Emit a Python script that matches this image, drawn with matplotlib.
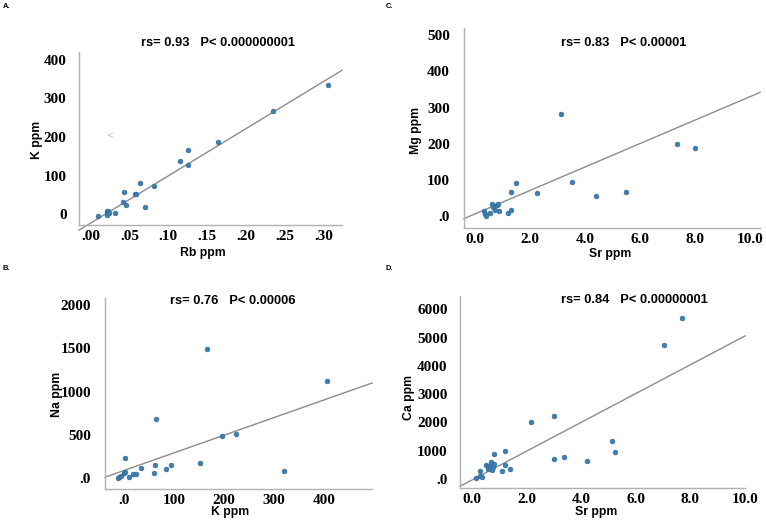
import matplotlib.pyplot as plt

# A: K vs Rb
rb_a = [0.010, 0.021, 0.021, 0.023, 0.021, 0.024, 0.031, 0.042, 0.046, 0.043, 0.057, 0.059,
        0.063, 0.070, 0.082, 0.115, 0.125, 0.125, 0.164, 0.235, 0.306]
k_a = [-4, 9, 4, 7, -2, 3, 4, 31, 24, 57, 53, 53, 82, 18, 72, 139, 165, 128, 187, 266, 335]
fit_a = (-23, 1221)

# B: Na vs K
k_b = [-12, -9, -6, 0, 2, 10, 19, 25, 35, 3, 60, 62, 84, 95, 152, 65, 167, 197, 224, 320, 405]
na_b = [5, 15, 25, 60, 75, 15, 55, 45, 124, 234, 61, 158, 104, 158, 181, 689, 1493, 485, 516, 89, 1120]
fit_b = (88, 2.045)

# C: Mg vs Sr
sr_c = [0.35, 0.37, 0.40, 0.56, 0.64, 0.68, 0.74, 0.80, 0.86, 0.89, 1.21, 1.30, 1.30, 1.49,
        2.27, 3.15, 3.55, 4.40, 5.48, 7.33, 8.01]
mg_c = [15, 8, 2, 10, 33, 26, 17, 31, 33, 15, 9, 19, 68, 92, 65, 283, 94, 56, 68, 200, 189]
fit_c = (6.6, 32.4)

# D: Ca vs Sr
sr_d = [0.15, 0.31, 0.31, 0.36, 0.52, 0.60, 0.58, 0.66, 0.69, 0.74, 0.78, 0.80, 0.81, 1.12,
        1.21, 1.22, 1.39, 2.16, 3.01, 3.01, 3.37, 4.22, 5.15, 5.26, 7.03, 7.70]
ca_d = [30, 260, 90, 60, 500, 440, 360, 400, 600, 300, 420, 540, 870, 280, 480, 975, 360,
        2004, 2216, 691, 787, 621, 1330, 940, 4734, 5702]
fit_d = (-46.5, 510.5)

W, H = 766, 522
fig = plt.figure(figsize=(W / 100, H / 100), dpi=100)


def box(l, t, r, b):
    return [l / W, 1 - b / H, (r - l) / W, (b - t) / H]


def px(x, y):
    return x / W, 1 - y / H


def panel(rect, x, y, fit, xlim, ylim, xt, xtl, yt, ytl, title, tpos, ypad):
    ax = fig.add_axes(rect)
    ax.scatter(x, y, s=12, color='#3d80b0', edgecolor='#2b6590', linewidth=0.4, zorder=3)
    ax.plot(xlim, [fit[0] + fit[1] * v for v in xlim], color='#8c8c8c', lw=1.0, clip_on=False)
    ax.set_xlim(xlim)
    ax.set_ylim(ylim)
    ax.set_xticks(xt, xtl)
    ax.set_yticks(yt, ytl)
    for s in ['top', 'right']:
        ax.spines[s].set_visible(False)
    for s in ['left', 'bottom']:
        ax.spines[s].set_color('#b0b0b0')
        ax.spines[s].set_linewidth(1.0)
    ax.tick_params(length=0, labelsize=11)
    ax.tick_params(axis='x', pad=3.5)
    ax.tick_params(axis='y', pad=ypad)
    for lab in ax.get_xticklabels() + ax.get_yticklabels():
        lab.set_fontfamily('Liberation Serif')
        lab.set_fontweight('bold')
    ax.text(tpos[0], tpos[1], title, transform=ax.transAxes, ha='center', va='center',
            fontsize=9.3, fontweight='bold', family='Liberation Sans')
    return ax


axA = panel(box(79, 52, 342, 225), rb_a, k_a, fit_a, (-0.015, 0.324), (-28, 420),
            [0, .05, .10, .15, .20, .25, .30], ['.00', '.05', '.10', '.15', '.20', '.25', '.30'],
            [0, 100, 200, 300, 400], ['0', '100', '200', '300', '400'],
            'rs= 0.93   P< 0.000000001', (0.53, 1.05), 9)
axA.text(0.025, 205, '<', color='#b8b8b8', fontsize=6, ha='center', va='center')

panel(box(464, 28, 760, 228), sr_c, mg_c, fit_c, (-0.39, 10.36), (-32, 520),
      [0, 2, 4, 6, 8, 10], ['0.0', '2.0', '4.0', '6.0', '8.0', '10.0'],
      [0, 100, 200, 300, 400, 500], ['.0', '100', '200', '300', '400', '500'],
      'rs= 0.83   P< 0.00001', (0.54, 0.925), 10)

panel(box(105, 298, 372, 489), k_b, na_b, fit_b, (-37, 495), (-124, 2082),
      [0, 100, 200, 300, 400], ['.0', '100', '200', '300', '400'],
      [0, 500, 1000, 1500, 2000], ['.0', '500', '1000', '1500', '2000'],
      'rs= 0.76   P< 0.00006', (0.477, 0.986), 10)

panel(box(460, 296, 745, 488), sr_d, ca_d, fit_d, (-0.43, 10.0), (-326, 6472),
      [0, 2, 4, 6, 8, 10], ['0.0', '2.0', '4.0', '6.0', '8.0', '10.0'],
      [0, 1000, 2000, 3000, 4000, 5000, 6000], ['.0', '1000', '2000', '3000', '4000', '5000', '6000'],
      'rs= 0.84   P< 0.00000001', (0.611, 0.977), 9)

lab = dict(fontsize=8.8, fontweight='bold', family='Liberation Sans', ha='center', va='center')
fig.text(*px(203, 253), 'Rb ppm', **lab)
fig.text(*px(610, 254), 'Sr ppm', **lab)
fig.text(*px(230, 512), 'K ppm', **lab)
fig.text(*px(596, 512), 'Sr ppm', **lab)
fig.text(*px(37, 140), 'K ppm', rotation=90, **lab)
fig.text(*px(416, 130), 'Mg ppm', rotation=90, **lab)
fig.text(*px(57, 394), 'Na ppm', rotation=90, **lab)
fig.text(*px(409, 398), 'Ca ppm', rotation=90, **lab)

small = dict(fontsize=5.5, fontweight='bold', family='Liberation Sans', ha='left', va='center')
fig.text(*px(3, 7), 'A.', **small)
fig.text(*px(386, 7), 'C.', **small)
fig.text(*px(3, 269), 'B.', **small)
fig.text(*px(386, 269), 'D.', **small)

fig.savefig('out.png', dpi=100)
